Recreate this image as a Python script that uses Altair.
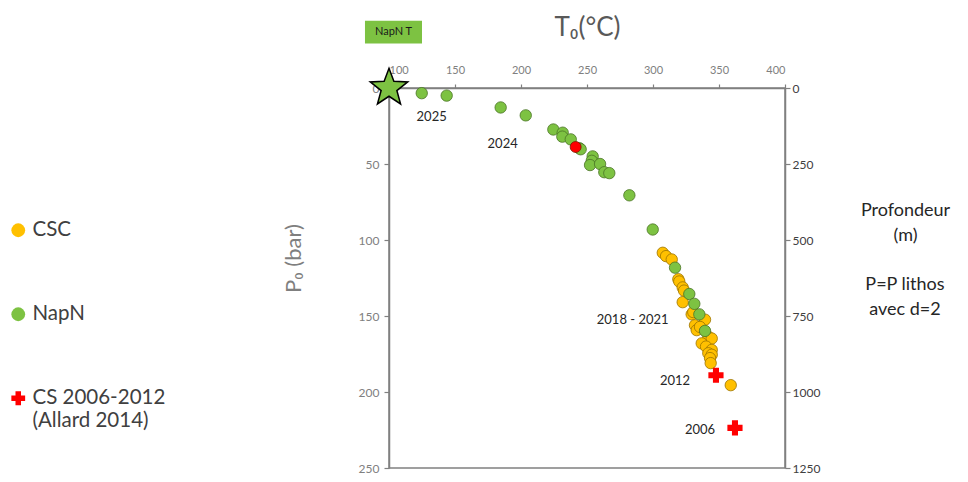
import altair as alt
import pandas as pd

# ---- data ----
csc_T = [307.4, 309.9, 314.2, 319.2, 319.9, 322.5, 323.5, 322.5, 329.3, 330.5, 339.4, 331.8,
         333.1, 335.6, 341.9, 344.5, 336.9, 340.2, 344.5, 341.9, 344.5, 343.2, 343.7, 358.9]
csc_P = [108.4, 110.6, 112.8, 125.8, 127.3, 131.2, 133.3, 140.9, 148.9, 147.4, 152.4, 156.1,
         159.3, 157.2, 163.6, 164.8, 168.0, 170.1, 172.3, 174.5, 175.5, 177.7, 181.0, 195.5]

napn_T = [124.8, 143.7, 184.6, 203.6, 224.5, 231.6, 231.3, 237.7, 244.2, 245.2, 254.3, 253.6,
          252.3, 259.9, 263.1, 266.9, 282.1, 299.8, 316.7, 327.5, 331.3, 335.1, 339.4]
napn_P = [3.4, 5.0, 12.8, 18.0, 27.3, 29.4, 32.0, 33.8, 39.6, 40.3, 45.0, 47.9,
          50.7, 50.0, 55.4, 56.0, 70.6, 93.1, 118.2, 135.5, 142.0, 148.9, 159.8]

cs_T = [347.7, 362.1]
cs_P = [189.0, 223.6]

red_T = [241.4]
red_P = [38.8]

star_T = [100]
star_P = [0]

ann_text = ["2025", "2024", "2018 - 2021", "2012", "2006"]
ann_T = [132.3, 186.1, 284.6, 316.7, 335.6]
ann_P = [19.3, 37.0, 152.8, 192.9, 225.3]

box_label = ["NapN T"]
box_T1 = [81.8]
box_T2 = [125.0]
box_P1 = [-44.2]
box_P2 = [-29.2]

note_text = ["P=P lithos", "avec d=2"]
note_T = [490.9, 490.9]
note_P = [129.6, 146.1]

series_names = ["CSC", "NapN", "CS 2006-2012"]
series_fill = ["#ffc000", "#7dc242", "#ff0000"]
series_stroke = ["#9c7400", "#4a7426", "#ff0000"]
series_shape = ["circle", "circle", "cross"]

x_ticks = [100, 150, 200, 250, 300, 350, 400]
p_ticks = [0, 50, 100, 150, 200, 250]
depth_ticks = [0, 250, 500, 750, 1000, 1250]

FONT = "Lato"

# five-pointed star as a unit-box symbol path
STAR = ("M0,-1L0.2469,-0.3398L0.9511,-0.309L0.3994,0.1298L0.5878,0.809L0,0.42"
        "L-0.5878,0.809L-0.3994,0.1298L-0.9511,-0.309L-0.2469,-0.3398Z")

# ---- tables ----
circles = pd.DataFrame({
    "T": csc_T + napn_T,
    "P": csc_P + napn_P,
    "series": ["CSC"] * len(csc_T) + ["NapN"] * len(napn_T),
})
crosses = pd.DataFrame({"T": cs_T, "P": cs_P, "series": ["CS 2006-2012"] * len(cs_T)})
red_df = pd.DataFrame({"T": red_T, "P": red_P})
star_df = pd.DataFrame({"T": star_T, "P": star_P})
ann_df = pd.DataFrame({"label": ann_text, "T": ann_T, "P": ann_P})
note_df = pd.DataFrame({"label": note_text, "T": note_T, "P": note_P})
box_df = pd.DataFrame({"label": box_label, "T1": box_T1, "T2": box_T2, "P1": box_P1, "P2": box_P2,
                       "Tc": [(a + b) / 2 for a, b in zip(box_T1, box_T2)],
                       "Pc": [(a + b) / 2 for a, b in zip(box_P1, box_P2)]})
depth_df = pd.DataFrame({"depth": [depth_ticks[0], depth_ticks[-1]]})

x_scale = alt.Scale(domain=[100, 400], nice=False, zero=False)
y_scale = alt.Scale(domain=[0, 250], reverse=True, nice=False, zero=False)

x_axis = alt.Axis(orient="top", values=x_ticks, title="T₀(°C)", titleFontSize=26,
                  titleColor="#595959", titleFontWeight="normal", titleX=198, titleY=-61,
                  titleBaseline="middle", labelFontSize=11, labelPadding=9, tickSize=4)
y_axis = alt.Axis(values=p_ticks, title="P₀ (bar)", titleFontSize=22, titleColor="#7f7f7f",
                  titleFontWeight="normal", titleX=-96, titleY=170, titleAngle=270,
                  titleAlign="center", titleBaseline="middle", labelFontSize=12, labelPadding=5)


def X(field):
    return alt.X(f"{field}:Q", scale=x_scale, axis=x_axis)


def Y(field):
    return alt.Y(f"{field}:Q", scale=y_scale, axis=y_axis)


legend = alt.Legend(
    orient="none", legendX=-381, legendY=132, title=None,
    labelFontSize=20.5, labelColor="#404040", labelFont=FONT, symbolSize=190,
    rowPadding=63, padding=0, symbolStrokeWidth=0,
    labelExpr="datum.label == 'CS 2006-2012' ? ['CS 2006-2012', '(Allard 2014)'] : datum.label",
)
color = alt.Color("series:N", scale=alt.Scale(domain=series_names, range=series_fill), legend=legend)
shape = alt.Shape("series:N", scale=alt.Scale(domain=series_names, range=series_shape), legend=legend)
stroke = alt.Stroke("series:N", scale=alt.Scale(domain=series_names, range=series_stroke), legend=None)

pts = alt.Chart(circles).mark_point(filled=True, size=130, strokeWidth=0.8, opacity=1).encode(
    x=X("T"), y=Y("P"), color=color, shape=shape, stroke=stroke)

crs = alt.Chart(crosses).mark_point(filled=True, size=230, strokeWidth=0, opacity=1).encode(
    x=X("T"), y=Y("P"), color=color, shape=shape, stroke=stroke)

red = alt.Chart(red_df).mark_point(filled=True, shape="circle", size=120, fill="#ff0000",
                                   stroke="#7a1a00", strokeWidth=0.8, opacity=1).encode(
    x=X("T"), y=Y("P"))

star = alt.Chart(star_df).mark_point(filled=True, shape=STAR, size=1550, fill="#7dc242",
                                     stroke="#000000", strokeWidth=1.5, opacity=1).encode(
    x=X("T"), y=Y("P"))

ann = alt.Chart(ann_df).mark_text(font=FONT, fontSize=13, color="#262626",
                                  align="center", baseline="middle").encode(
    x=X("T"), y=Y("P"), text="label:N")

note = alt.Chart(note_df).mark_text(font=FONT, fontSize=18, color="#262626",
                                    align="center", baseline="middle").encode(
    x=X("T"), y=Y("P"), text="label:N")

box = alt.Chart(box_df).mark_rect(fill="#7dc242").encode(
    x=X("T1"), x2="T2", y=Y("P1"), y2="P2")
box_txt = alt.Chart(box_df).mark_text(font=FONT, fontSize=11, color="#1a1a1a",
                                      align="center", baseline="middle").encode(
    x=X("Tc"), y=Y("Pc"), text="label:N")

main = alt.layer(box, box_txt, pts, crs, red, star, ann, note)

depth = alt.Chart(depth_df).mark_point(opacity=0).encode(
    y=alt.Y("depth:Q",
            scale=alt.Scale(domain=[depth_ticks[0], depth_ticks[-1]], reverse=True, nice=False, zero=False),
            axis=alt.Axis(orient="right", values=depth_ticks, labelColor="#404040", labelFontSize=12,
                          format="d",
                          title=["Profondeur", "(m)"],
                          titleAngle=0, titleX=120, titleY=122, titleFontSize=18,
                          titleColor="#262626", titleFontWeight="normal", titleLineHeight=25,
                          titleAlign="center", titleBaseline="middle"))
)

chart = alt.layer(main, depth).resolve_scale(y="independent").properties(
    width=396, height=380, autosize="none",
    padding={"left": 381, "top": 80, "right": 175, "bottom": 6},
).configure_axis(
    domainColor="#808080", domainWidth=1.5, tickColor="#808080", tickSize=5, tickWidth=1.2,
    labelColor="#808080", labelFont=FONT, titleFont=FONT, grid=False,
).configure_view(stroke="#808080", strokeWidth=1.5).configure_text(font=FONT)

chart.save("out.html", embed_options={"renderer": "svg", "actions": False})
